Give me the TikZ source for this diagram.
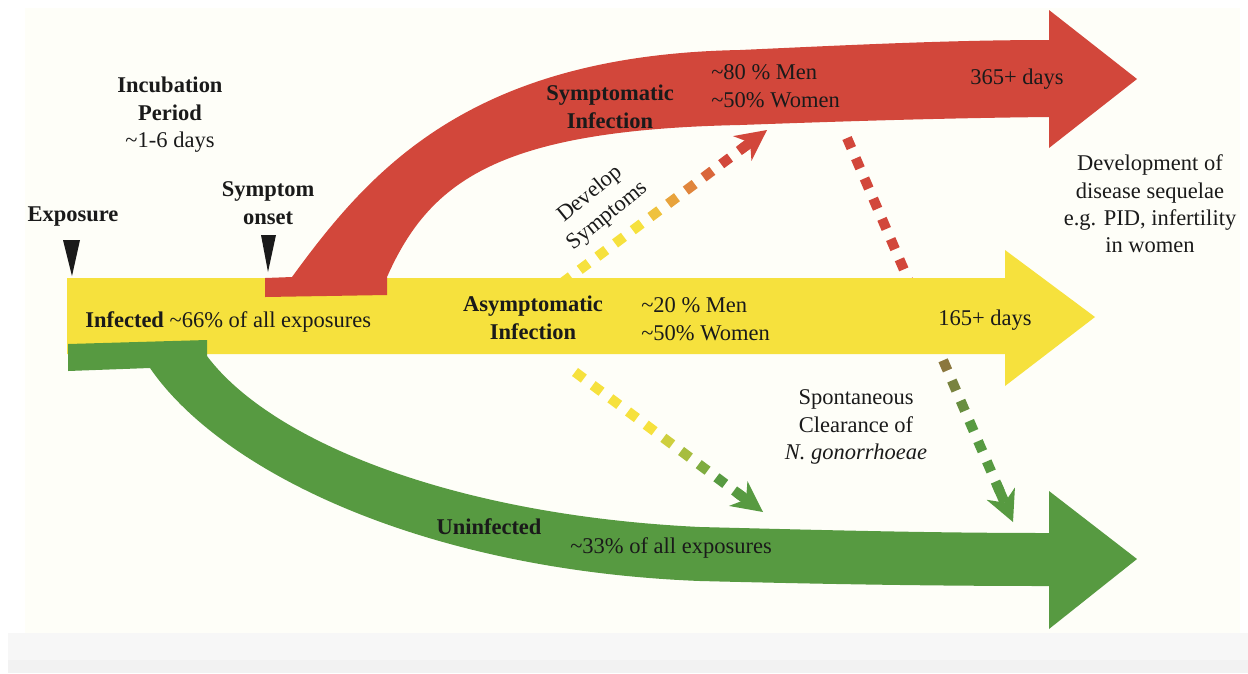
\documentclass[tikz,border=0pt]{standalone}
\usepackage{fontspec}
\setmainfont{Liberation Serif}
\usetikzlibrary{arrows.meta,calc}

\definecolor{bandred}{HTML}{D2473B}
\definecolor{bandyellow}{HTML}{F6E13D}
\definecolor{bandgreen}{HTML}{579A41}
\definecolor{panel}{HTML}{FEFEF8}
\definecolor{txt}{HTML}{1A1A1A}

\begin{document}
\begin{tikzpicture}[x=0.025cm, y=-0.025cm,
    lbl/.style={font=\fontsize{16}{19.5}\selectfont, text=txt, align=center, inner sep=0pt},
    dashsq/.style={line width=0.25cm},
    headtip/.style={-{Stealth[length=22pt, width=22pt, inset=7pt, line width=0pt]}}]
    \useasboundingbox (0,0) rectangle (1248,673);
    \fill[white] (0,0) rectangle (1248,673);
    \fill[panel] (25,8) rectangle (1240,633);
    \fill[black!3] (8,633) rectangle (1248,660);
    \fill[black!5] (8,660) rectangle (1248,673);

    % dashed transitions (drawn under the bands)
    \coordinate (devA) at (562,283);
    \coordinate (devB) at (767,130);
    \foreach \i in {0,...,10} {
        \pgfmathsetmacro\ta{\i*22/255}
        \pgfmathsetmacro\tb{(\i*22+11)/255}
        \pgfmathtruncatemacro\pc{max(0,min(100,100-(\i-4)*20))}
        \draw[dashsq, bandyellow!\pc!bandred] ($(devA)!\ta!(devB)$) -- ($(devA)!\tb!(devB)$);
    }
    \draw[dashsq, bandred, headtip] ($(devA)!0.87!(devB)$) -- (devB);

    \coordinate (clrA) at (575,372);
    \coordinate (clrB) at (763,512);
    \foreach \i in {0,...,9} {
        \pgfmathsetmacro\ta{\i*22/234}
        \pgfmathsetmacro\tb{(\i*22+11)/234}
        \pgfmathtruncatemacro\pc{max(0,min(100,100-(\i-4)*25))}
        \draw[dashsq, bandyellow!\pc!bandgreen] ($(clrA)!\ta!(clrB)$) -- ($(clrA)!\tb!(clrB)$);
    }
    \draw[dashsq, bandgreen, headtip] ($(clrA)!0.86!(clrB)$) -- (clrB);

    \coordinate (recA) at (847,138);
    \coordinate (recB) at (1013,522);
    \foreach \i in {0,...,17} {
        \pgfmathsetmacro\ta{\i*22/418}
        \pgfmathsetmacro\tb{(\i*22+11)/418}
        \pgfmathtruncatemacro\pc{max(0,min(100,100-(\i-7)*14.3))}
        \draw[dashsq, bandred!\pc!bandgreen] ($(recA)!\ta!(recB)$) -- ($(recA)!\tb!(recB)$);
    }
    \draw[dashsq, bandgreen, headtip] ($(recA)!0.9!(recB)$) -- (recB);

    % yellow band
    \fill[bandyellow] (67,278) -- (1005,278) -- (1005,250) -- (1095,317) -- (1005,386)
        -- (1005,354) -- (67,354) -- cycle;

    % red band
    \fill[bandred] (265,278) -- (292,277) .. controls (370,170) and (470,55) .. (740,50)
        .. controls (850,45) and (950,40) .. (1049,40) -- (1049,10) -- (1137,79)
        -- (1049,148) -- (1049,117) .. controls (950,118) and (850,121) .. (740,125)
        .. controls (500,130) and (430,180) .. (387,277) -- (387,295) -- (265,297) -- cycle;

    % green band
    \fill[bandgreen] (68,344) -- (207,340) -- (207,356) .. controls (270,440) and (450,515) .. (700,527)
        .. controls (820,530) and (930,533) .. (1049,533) -- (1049,491) -- (1137,559)
        -- (1049,629) -- (1049,586) .. controls (930,586) and (820,584) .. (700,581)
        .. controls (420,570) and (220,470) .. (150,368) -- (68,371) -- cycle;

    % time markers
    \fill[txt] (63,240) -- (80,240) -- (72,276) -- cycle;
    \fill[txt] (261,235) -- (276,235) -- (268,272) -- cycle;

    \node[lbl] (incub) at (170,115) {\textbf{Incubation}\\\textbf{Period}\\\textasciitilde 1-6 days};
    \node[lbl] (expo) at (73,217) {\textbf{Exposure}};
    \node[lbl] (onset) at (268,203) {\textbf{Symptom}\\\textbf{onset}};
    \node[lbl, anchor=west] (infct) at (85,322) {\textbf{Infected} \textasciitilde 66\% of all exposures};

    \node[lbl] (sympt) at (610,107) {\textbf{Symptomatic}\\\textbf{Infection}};
    \node[lbl, anchor=west, align=left] (symptpc) at (711,86) {\textasciitilde 80 \% Men\\\textasciitilde 50\% Women};
    \node[lbl] (days365) at (1017,79) {365+ days};
    \node[lbl] (sequel) at (1150,204) {Development of\\disease sequelae\\e.g. PID, infertility\\in women};

    \node[lbl, rotate=39] (devlp) at (599,205) {Develop\\Symptoms};

    \node[lbl] (asympt) at (533,318) {\textbf{Asymptomatic}\\\textbf{Infection}};
    \node[lbl, anchor=west, align=left] (asymptpc) at (641,319) {\textasciitilde 20 \% Men\\\textasciitilde 50\% Women};
    \node[lbl] (days165) at (985,320) {165+ days};

    \node[lbl] (clear) at (856,427) {Spontaneous\\Clearance of\\\textit{N. gonorrhoeae}};
    \node[lbl] (uninf) at (489,527) {\textbf{Uninfected}};
    \node[lbl] (uninfpc) at (671,548) {\textasciitilde 33\% of all exposures};
\end{tikzpicture}
\end{document}
